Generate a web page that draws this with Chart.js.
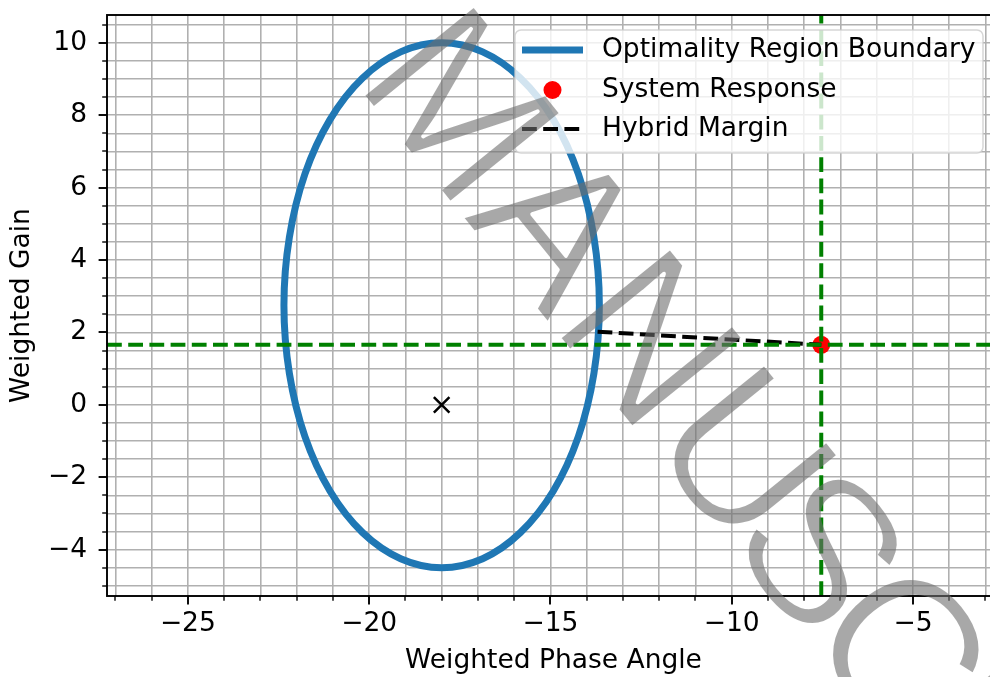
<!DOCTYPE html>
<html>
<head>
<meta charset="utf-8">
<script src="https://cdn.jsdelivr.net/npm/chart.js@4.4.1/dist/chart.umd.min.js"></script>
<style>
  html, body { margin: 0; padding: 0; background: #fff; overflow: hidden; }
  /* the axes run about 10px past the right edge of the picture */
  #wrap { width: 1000px; height: 677px; }
</style>
</head>
<body>
<div id="wrap"><canvas id="chart" width="1000" height="677"></canvas></div>
<script>
// Optimality region boundary, every 15 degrees (starting at the top)
const boundaryX = [-18.00, -16.87, -15.83, -14.92, -14.23, -13.80, -13.65, -13.80, -14.23, -14.92, -15.83, -16.87,
                   -18.00, -19.13, -20.18, -21.08, -21.77, -22.20, -22.35, -22.20, -21.77, -21.08, -20.18, -19.13];
const boundaryY = [10.00, 9.75, 9.03, 7.88, 6.38, 4.63, 2.75, 0.87, -0.88, -2.38, -3.53, -4.25,
                   -4.50, -4.25, -3.53, -2.38, -0.88, 0.87, 2.75, 4.63, 6.38, 7.88, 9.03, 9.75];

// system response point and the start of the hybrid margin on the boundary
const responseX = -7.53;
const responseY = 1.66;
const marginX = [-13.70, responseX];
const marginY = [2.02, responseY];

// centre marker
const centerX = -18;
const centerY = 0;

// axes
const xRange = [-27.23, -2.6];
const yRange = [-5.28, 10.77];
const xMajorTicks = [-25, -20, -15, -10, -5];
const yMajorTicks = [-4, -2, 0, 2, 4, 6, 8, 10];

const legendLabels = ['Optimality Region Boundary', 'System Response', 'Hybrid Margin'];
const watermarkParts = ['MANU', 'SCRIPT'];

const FONT = 'DejaVu Sans';
const FONT_SIZE = 26.5;
const BLUE = '#1f77b4';
const GREEN = '#008000';
const DASH = [14.8, 6.4];

// grid every 1 on x, every 0.5 on y
const xGrid = [];
for (let v = Math.ceil(xRange[0]); v <= xRange[1]; v += 1) xGrid.push(v);
const yGrid = [];
for (let v = Math.ceil(yRange[0] * 2) / 2; v <= yRange[1]; v += 0.5) yGrid.push(v);

const fmt = v => (v < 0 ? '\u2212' + Math.abs(v) : String(v));
const toPoints = (xs, ys) => xs.map((x, i) => ({ x, y: ys[i] }));

function drawWatermark(chart) {
  // thin letters: fill the glyphs, then eat their outline away a little
  const off = document.createElement('canvas');
  off.width = chart.width;
  off.height = chart.height;
  const w = off.getContext('2d');
  w.translate(352, 82);
  w.rotate(51 * Math.PI / 180);
  w.font = '208px "Liberation Sans"';
  w.textBaseline = 'alphabetic';
  w.fillStyle = 'rgb(110,110,110)';
  const first = watermarkParts[0];
  const secondX = w.measureText(first).width - 22;
  w.fillText(first, 0, 0);
  w.letterSpacing = '-18px';
  w.fillText(watermarkParts[1], secondX, 0);
  w.globalCompositeOperation = 'destination-out';
  w.lineWidth = 4;
  w.lineJoin = 'round';
  w.letterSpacing = '0px';
  w.strokeText(first, 0, 0);
  w.letterSpacing = '-18px';
  w.strokeText(watermarkParts[1], secondX, 0);
  chart.ctx.globalAlpha = 0.6;
  chart.ctx.drawImage(off, 0, 0);
  chart.ctx.globalAlpha = 1;
}

const overlay = {
  id: 'overlay',
  afterDatasetsUpdate(chart) {
    // close the boundary as a smooth loop
    const line = chart.getDatasetMeta(0).dataset;
    line._loop = true;
    line._fullLoop = true;
  },
  afterDraw(chart) {
    const { ctx, chartArea: a, scales: { x, y } } = chart;
    ctx.save();

    // tick marks
    ctx.strokeStyle = '#000';
    xGrid.forEach(v => {
      const major = xMajorTicks.includes(v);
      const px = Math.round(x.getPixelForValue(v));
      ctx.lineWidth = major ? 1.9 : 1.4;
      ctx.beginPath();
      ctx.moveTo(px, a.bottom);
      ctx.lineTo(px, a.bottom + (major ? 8.4 : 4.8));
      ctx.stroke();
    });
    yGrid.forEach(v => {
      const major = yMajorTicks.includes(v);
      const py = Math.round(y.getPixelForValue(v));
      ctx.lineWidth = major ? 1.9 : 1.4;
      ctx.beginPath();
      ctx.moveTo(a.left, py);
      ctx.lineTo(a.left - (major ? 8.4 : 4.8), py);
      ctx.stroke();
    });

    // spines
    ctx.lineWidth = 1.9;
    ctx.strokeRect(a.left, a.top, a.right - a.left, a.bottom - a.top);

    // legend
    const lw = 468, lh = 123;
    const lx = a.right - 17 - lw, ly = a.top + 15;
    ctx.beginPath();
    ctx.roundRect(lx, ly, lw, lh, 6);
    ctx.fillStyle = 'rgba(255,255,255,0.8)';
    ctx.fill();
    ctx.strokeStyle = 'rgba(204,204,204,0.8)';
    ctx.lineWidth = 1.5;
    ctx.stroke();

    const hx0 = lx + 7, hx1 = lx + 68, tx = lx + 87;
    const rows = [ly + 20, ly + 60, ly + 99];

    ctx.strokeStyle = BLUE;
    ctx.lineWidth = 7;
    ctx.beginPath();
    ctx.moveTo(hx0, rows[0]);
    ctx.lineTo(hx1, rows[0]);
    ctx.stroke();

    ctx.fillStyle = '#ff0000';
    ctx.beginPath();
    ctx.arc((hx0 + hx1) / 2, rows[1], 9, 0, Math.PI * 2);
    ctx.fill();

    ctx.strokeStyle = '#000';
    ctx.lineWidth = 4;
    ctx.setLineDash(DASH);
    ctx.beginPath();
    ctx.moveTo(hx0, rows[2]);
    ctx.lineTo(hx1, rows[2]);
    ctx.stroke();
    ctx.setLineDash([]);

    ctx.fillStyle = '#000';
    ctx.font = FONT_SIZE + 'px "' + FONT + '"';
    ctx.textBaseline = 'middle';
    ctx.textAlign = 'left';
    legendLabels.forEach((t, i) => ctx.fillText(t, tx, rows[i]));

    // watermark across the whole figure
    drawWatermark(chart);

    ctx.restore();
  }
};

const tickFont = { family: FONT, size: FONT_SIZE };

new Chart(document.getElementById('chart'), {
  type: 'scatter',
  data: {
    datasets: [
      {
        label: legendLabels[0],
        data: toPoints(boundaryX, boundaryY),
        showLine: true,
        borderColor: BLUE,
        borderWidth: 7,
        tension: 0.34,
        pointRadius: 0,
        fill: false,
        order: 6
      },
      {
        label: 'center',
        data: [{ x: centerX, y: centerY }],
        pointStyle: 'crossRot',
        pointRadius: 11,
        borderColor: '#000',
        borderWidth: 2.5,
        order: 5
      },
      {
        label: legendLabels[1],
        data: [{ x: responseX, y: responseY }],
        pointRadius: 9,
        backgroundColor: '#ff0000',
        borderWidth: 0,
        order: 4
      },
      {
        label: legendLabels[2],
        data: toPoints(marginX, marginY),
        showLine: true,
        borderColor: '#000',
        borderWidth: 4,
        borderDash: DASH,
        pointRadius: 0,
        order: 3
      },
      {
        label: 'vline',
        data: [{ x: responseX, y: yRange[0] }, { x: responseX, y: yRange[1] }],
        showLine: true,
        borderColor: GREEN,
        borderWidth: 4,
        borderDash: DASH,
        pointRadius: 0,
        order: 2
      },
      {
        label: 'hline',
        data: [{ x: xRange[0], y: responseY }, { x: xRange[1], y: responseY }],
        showLine: true,
        borderColor: GREEN,
        borderWidth: 4,
        borderDash: DASH,
        pointRadius: 0,
        order: 1
      }
    ]
  },
  options: {
    responsive: false,
    animation: false,
    layout: { autoPadding: false, padding: { top: 15, left: 0, right: 0, bottom: 0 } },
    plugins: {
      legend: { display: false },
      tooltip: { enabled: false }
    },
    scales: {
      x: {
        type: 'linear',
        min: xRange[0],
        max: xRange[1],
        afterBuildTicks: s => { s.ticks = xGrid.map(v => ({ value: v })); },
        afterFit: s => { s.height = 81; s.paddingLeft = 0; s.paddingRight = 0; },
        grid: { color: '#b0b0b0', lineWidth: 1.6, drawTicks: false },
        border: { display: false },
        ticks: {
          autoSkip: false, maxRotation: 0, minRotation: 0, padding: 12,
          color: '#000', font: tickFont,
          callback: v => (xMajorTicks.includes(v) ? fmt(v) : '')
        },
        title: {
          display: true, text: 'Weighted Phase Angle', color: '#000',
          font: tickFont, padding: { top: 0, bottom: 0 }
        }
      },
      y: {
        type: 'linear',
        min: yRange[0],
        max: yRange[1],
        afterBuildTicks: s => { s.ticks = yGrid.map(v => ({ value: v })); },
        afterFit: s => { s.width = 107; s.paddingTop = 0; s.paddingBottom = 0; },
        grid: { color: '#b0b0b0', lineWidth: 1.6, drawTicks: false },
        border: { display: false },
        ticks: {
          autoSkip: false, padding: 20,
          color: '#000', font: tickFont,
          callback: v => (yMajorTicks.includes(v) ? fmt(v) : '')
        },
        title: {
          display: true, text: 'Weighted Gain', color: '#000',
          font: tickFont, padding: { top: 6, bottom: 0 }
        }
      }
    }
  },
  plugins: [overlay]
});
</script>
</body>
</html>
